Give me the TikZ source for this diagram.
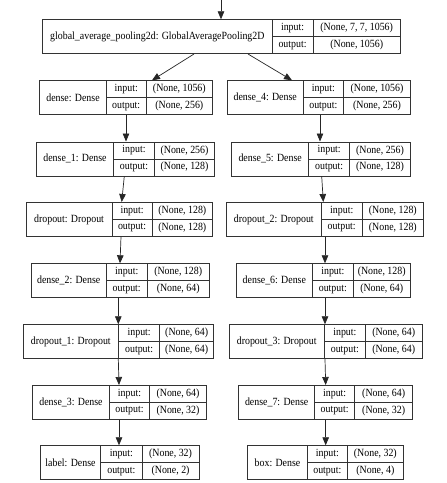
\documentclass[tikz,border=0pt]{standalone}
\usepackage{fontspec}
\setmainfont{Liberation Serif}[FakeStretch=0.9]
\usetikzlibrary{arrows.meta}
\tikzset{
  cell/.style={draw=black!80, line width=0.7pt, inner sep=0pt, font=\fontsize{11}{12}\selectfont, anchor=north west},
  arr/.style={draw=black!85, line width=0.7pt, -{Triangle[length=8pt,width=6.5pt]}},
}
% name, x1, x2, x3, x4, ytop, title, input shape, output shape
\newcommand\lay[9]{%
  \node[cell, minimum width={#3pt-#2pt}, minimum height=34pt] (#1) at (#2,#6) {#7};
  \node[cell, minimum width={#4pt-#3pt}, minimum height=17pt] (#1il) at (#3,#6) {input:};
  \node[cell, minimum width={#5pt-#4pt}, minimum height=17pt] (#1iv) at (#4,#6) {#8};
  \node[cell, minimum width={#4pt-#3pt}, minimum height=17pt] (#1ol) at (#3,#6+17) {output:};
  \node[cell, minimum width={#5pt-#4pt}, minimum height=17pt] (#1ov) at (#4,#6+17) {#9};
}
\begin{document}
\begin{tikzpicture}[x=1pt,y=-1pt]
\useasboundingbox[fill=white] (0,0) rectangle (447,483);
\lay{glob}{42.3}{271.7}{312.7}{400}{19.3}{global\_average\_pooling2d: GlobalAveragePooling2D}{(None, 7, 7, 1056)}{(None, 1056)}
\lay{dense}{39.3}{106}{145.7}{212.3}{80.3}{dense: Dense}{(None, 1056)}{(None, 256)}
\lay{densefour}{227}{302.7}{343.3}{410}{80.3}{dense\_4: Dense}{(None, 1056)}{(None, 256)}
\lay{denseone}{36}{113.3}{154}{214.3}{141.5}{dense\_1: Dense}{(None, 256)}{(None, 128)}
\lay{densefive}{231.3}{308.3}{349.3}{410}{141.5}{dense\_5: Dense}{(None, 256)}{(None, 128)}
\lay{drop}{25.7}{111.7}{151.7}{212.3}{202}{dropout: Dropout}{(None, 128)}{(None, 128)}
\lay{droptwo}{226}{321}{361.7}{423.3}{202}{dropout\_2: Dropout}{(None, 128)}{(None, 128)}
\lay{densetwo}{30.7}{106}{146.7}{209}{263.3}{dense\_2: Dense}{(None, 128)}{(None, 64)}
\lay{densesix}{235.7}{312.3}{352.7}{410}{263.3}{dense\_6: Dense}{(None, 128)}{(None, 64)}
\lay{dropone}{22.7}{118.3}{159.3}{213.3}{324.3}{dropout\_1: Dropout}{(None, 64)}{(None, 64)}
\lay{dropthree}{228.7}{324}{365}{421.7}{324.3}{dropout\_3: Dropout}{(None, 64)}{(None, 64)}
\lay{densethree}{32.3}{109}{149.3}{206}{385}{dense\_3: Dense}{(None, 64)}{(None, 32)}
\lay{denseseven}{238.3}{314.3}{354.3}{412.3}{385}{dense\_7: Dense}{(None, 64)}{(None, 32)}
\lay{label}{40}{100.3}{141.7}{198.7}{445.3}{label: Dense}{(None, 32)}{(None, 2)}
\lay{box}{247}{307.3}{346.7}{403.3}{445.3}{box: Dense}{(None, 32)}{(None, 4)}
\coordinate (in) at (221,0);
\draw[arr] (in) -- ([xshift=178.7pt]glob.north west);
\draw[arr] ([xshift=151.7pt]glob.south west) -- ([xshift=112.7pt]dense.north west);
\draw[arr] ([xshift=205.7pt]glob.south west) -- ([xshift=65pt]densefour.north west);
\draw[arr] ([xshift=86.7pt]dense.south west) -- ([xshift=90pt]denseone.north west);
\draw[arr] ([xshift=93pt]densefour.south west) -- ([xshift=88.7pt]densefive.north west);
\draw[arr] ([xshift=88.3pt]denseone.south west) -- ([xshift=96pt]drop.north west);
\draw[arr] ([xshift=90.4pt]densefive.south west) -- ([xshift=97.3pt]droptwo.north west);
\draw[arr] ([xshift=95.3pt]drop.south west) -- ([xshift=89.3pt]densetwo.north west);
\draw[arr] ([xshift=99pt]droptwo.south west) -- ([xshift=89.3pt]densesix.north west);
\draw[arr] ([xshift=87.6pt]densetwo.south west) -- ([xshift=95.6pt]dropone.north west);
\draw[arr] ([xshift=89.3pt]densesix.south west) -- ([xshift=96.3pt]dropthree.north west);
\draw[arr] ([xshift=95.6pt]dropone.south west) -- ([xshift=86.7pt]densethree.north west);
\draw[arr] ([xshift=96.3pt]dropthree.south west) -- ([xshift=87.4pt]denseseven.north west);
\draw[arr] ([xshift=86.7pt]densethree.south west) -- ([xshift=79pt]label.north west);
\draw[arr] ([xshift=87.4pt]denseseven.south west) -- ([xshift=78.7pt]box.north west);
\end{tikzpicture}
\end{document}
